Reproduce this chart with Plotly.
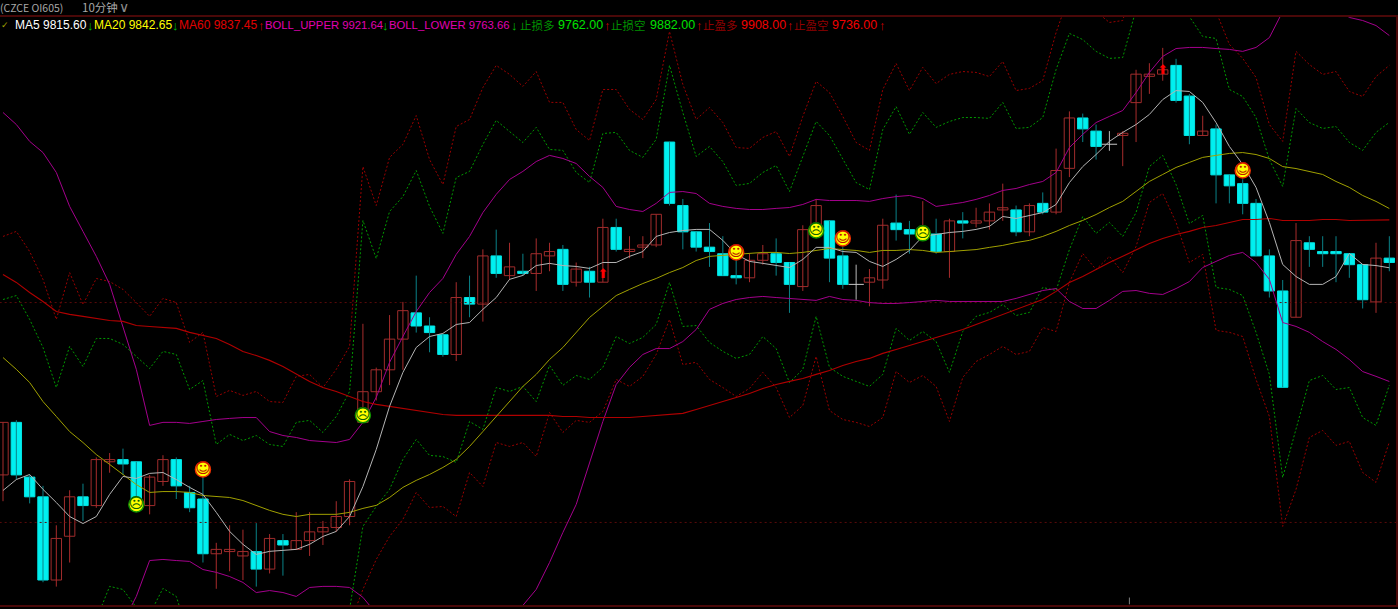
import plotly.graph_objects as go

# OHLC (prices), one entry per 10-minute bar
open_ = [9721,9745,9720,9711,9673,9693,9711,9707,9727,9728,9727,9707,9718,9728,9713,9710,9685,9686,9684,9686,9678,9691,9687,9691,9695,9697,9702,
         9745,9759,9769,9783,9795,9789,9785,9776,9802,9799,9821,9812,9814,9813,9821,9824,9809,9814,9809,9834,9823,9825,9826,9873,9844,9832,
         9825,9822,9812,9811,9819,9822,9818,9807,9833,9837,9821,9808,9809,9810,9836,9833,9830,9831,9823,9837,9836,9837,9842,9842,9832,9845,
         9841,9861,9884,9878,9872,9876,9891,9903,9904,9908,9894,9876,9879,9858,9854,9845,9821,9805,9793,9827,9823,9823,9822,9817,9800,9820]
high = [9745,9746,9721,9716,9698,9714,9717,9729,9731,9733,9727,9721,9730,9729,9716,9720,9690,9698,9696,9699,9694,9694,9704,9704,9700,9709,9719,
        9790,9770,9794,9800,9812,9793,9785,9809,9812,9824,9833,9827,9822,9829,9827,9826,9818,9816,9838,9838,9830,9830,9840,9873,9847,9832,
        9836,9830,9819,9822,9826,9829,9818,9835,9847,9837,9825,9817,9815,9838,9849,9837,9846,9838,9838,9841,9843,9845,9854,9844,9845,9850,
        9870,9887,9886,9881,9878,9878,9906,9909,9916,9911,9895,9885,9881,9858,9856,9847,9824,9810,9836,9830,9830,9830,9822,9817,9827,9830]
low = [9709,9719,9708,9672,9670,9681,9700,9706,9722,9721,9708,9703,9716,9710,9704,9681,9669,9677,9673,9670,9676,9675,9687,9684,9689,9695,9698,
       9745,9755,9762,9769,9786,9777,9775,9773,9793,9791,9811,9810,9812,9805,9814,9805,9807,9802,9809,9823,9820,9820,9825,9844,9824,9823,
       9816,9812,9808,9809,9817,9812,9795,9805,9833,9809,9806,9801,9798,9806,9828,9822,9829,9822,9811,9829,9834,9833,9837,9830,9830,9840,
       9840,9857,9873,9865,9869,9862,9873,9895,9901,9891,9872,9876,9845,9845,9840,9821,9802,9761,9793,9816,9816,9809,9811,9797,9795,9814]
close = [9745,9721,9711,9673,9692,9711,9707,9728,9728,9726,9710,9720,9728,9716,9706,9685,9687,9687,9686,9678,9692,9689,9691,9695,9697,9702,9718,
         9759,9769,9783,9796,9789,9786,9776,9802,9799,9821,9813,9816,9813,9822,9823,9808,9815,9809,9834,9824,9824,9826,9840,9845,9832,9825,
         9823,9812,9811,9819,9822,9818,9808,9833,9844,9820,9808,9808,9811,9835,9833,9831,9834,9823,9837,9836,9837,9841,9843,9832,9844,9841,
         9860,9884,9879,9871,9872,9877,9904,9904,9906,9892,9876,9878,9858,9853,9845,9821,9805,9761,9828,9824,9822,9822,9817,9801,9820,9818]

ma5 = [9713.9,9718.9,9721.2,9714.4,9708.4,9702.0,9698.8,9702.0,9712.1,9720.3,9719.4,9721.7,9722.1,9718.9,9715.3,9712.1,9703.9,9695.2,9689.3,9684.7,9686.1,9686.5,9687.0,9689.3,9692.9,9695.2,9702.0,
       9715.7,9732.6,9752.3,9767.8,9779.2,9784.2,9785.6,9789.7,9790.6,9796.6,9802.0,9810.3,9812.1,9816.6,9817.6,9816.6,9816.2,9815.3,9818.0,9818.0,9820.8,9823.0,9829.9,9831.7,9832.6,9833.1,
       9833.1,9828.1,9821.7,9818.5,9817.6,9816.6,9815.7,9819.4,9824.9,9824.9,9823.0,9822.6,9818.5,9816.2,9819.4,9823.5,9829.9,9830.8,9831.7,9832.2,9833.1,9834.5,9839.0,9838.1,9839.5,9840.8,
       9844.5,9854.5,9861.8,9867.3,9873.3,9877.4,9881.0,9885.6,9892.4,9896.5,9896.1,9891.1,9881.9,9871.0,9862.8,9852.3,9836.3,9817.1,9811.6,9808.0,9808.0,9811.6,9822.1,9817.1,9816.6,9815.6]
ma20 = [9774.6,9769.2,9763.2,9754.5,9747.7,9740.8,9735.8,9730.3,9725.8,9721.2,9716.6,9713.0,9713.4,9713.4,9713.0,9711.6,9711.2,9710.7,9709.3,9707.1,9704.8,9703.0,9702.0,9703.0,9703.0,9703.0,9703.9,
        9705.7,9707.1,9710.7,9715.3,9718.5,9721.2,9724.4,9728.1,9734.0,9740.8,9747.7,9754.5,9761.4,9766.9,9773.7,9779.2,9786.1,9792.9,9797.9,9802.9,9805.7,9808.4,9810.7,9813.4,9815.7,9818.9,
        9820.8,9821.2,9821.7,9822.1,9822.6,9822.6,9822.1,9822.6,9823.5,9824.4,9823.9,9823.5,9822.6,9823.5,9823.5,9823.9,9823.5,9822.6,9823.0,9823.5,9823.9,9824.9,9825.8,9827.1,9828.1,9829.9,
        9832.2,9834.9,9837.2,9839.9,9843.1,9845.9,9850.4,9855.0,9858.2,9861.4,9863.7,9866.0,9866.9,9867.8,9868.2,9867.3,9865.5,9861.8,9860.9,9859.6,9858.2,9855.0,9852.3,9848.6,9845.9,9842.65]
ma60 = [9812.5,9808.9,9804.3,9800.2,9795.6,9794.3,9793.4,9792.4,9791.5,9791.1,9789.2,9788.8,9788.3,9787.9,9786.1,9784.7,9783.3,9780.6,9777.4,9775.5,9773.3,9770.5,9766.9,9763.7,9760.9,9759.1,9756.8,
        9754.5,9753.2,9752.3,9751.3,9750.4,9749.5,9748.6,9748.2,9748.2,9748.2,9748.2,9748.2,9748.2,9748.2,9748.2,9747.7,9747.7,9747.2,9747.2,9747.2,9747.2,9747.7,9748.2,9748.6,9749.1,9750.9,
        9752.7,9754.5,9756.4,9758.2,9760.5,9762.3,9763.7,9765.0,9766.9,9768.7,9771.0,9772.8,9774.2,9776.5,9778.3,9780.1,9781.9,9783.8,9785.6,9787.4,9789.7,9792.0,9794.3,9796.6,9798.8,9801.1,
        9804.8,9808.9,9811.6,9814.8,9818.0,9820.8,9823.9,9826.7,9829.0,9830.8,9832.2,9834.0,9834.9,9836.3,9837.6,9837.6,9838.1,9837.2,9837.2,9837.2,9837.6,9837.6,9837.2,9837.2,9837.2,9837.45]
boll_upper = [9886.5,9881.0,9873.3,9868.2,9859.1,9843.6,9832.2,9820.8,9808.0,9788.8,9769.2,9743.6,9745.0,9745.0,9744.5,9745.4,9746.3,9746.8,9747.2,9747.2,9740.8,9739.0,9738.1,9736.7,9736.3,9735.8,9737.2,
              9745.0,9756.4,9772.4,9784.2,9795.6,9804.3,9810.7,9821.7,9829.9,9840.8,9849.1,9855.9,9859.6,9864.1,9866.9,9865.5,9863.2,9857.3,9852.3,9843.6,9842.2,9841.3,9845.0,9850.0,9850.4,9849.5,
              9845.0,9843.6,9842.7,9842.2,9842.2,9842.7,9843.1,9844.5,9846.8,9846.3,9846.3,9846.3,9845.9,9847.2,9848.1,9848.6,9847.2,9843.6,9844.5,9845.4,9846.8,9848.6,9850.9,9851.8,9853.6,9855.0,
              9859.1,9870.5,9876.5,9881.9,9884.7,9887.4,9895.6,9904.8,9912.1,9915.7,9916.2,9916.2,9915.7,9915.3,9914.4,9916.2,9920.7,9932.6,9935.8,9937.2,9936.7,9934.4,9929.9,9928.5,9926.2,9921.64]
boll_lower = [9661.4,9657.3,9653.2,9640.9,9636.3,9638.1,9639.5,9639.9,9643.6,9653.6,9665.5,9681.9,9682.4,9681.9,9681.5,9677.8,9676.5,9674.6,9671.9,9667.3,9668.2,9667.3,9665.5,9669.6,9670.1,9670.1,9669.6,
              9665.1,9657.7,9649.1,9646.3,9641.3,9638.1,9638.1,9634.5,9638.1,9640.9,9646.3,9653.2,9661.4,9668.7,9681.0,9694.7,9707.5,9726.7,9745.4,9762.3,9770.1,9776.0,9778.7,9778.7,9781.9,9787.4,
              9796.6,9799.3,9801.1,9802.0,9802.5,9802.0,9801.6,9801.1,9800.7,9802.5,9801.1,9800.7,9799.7,9799.3,9799.3,9799.7,9800.2,9800.7,9800.2,9800.2,9800.2,9800.2,9800.2,9801.6,9803.4,9805.2,
              9806.1,9800.2,9797.0,9797.0,9800.7,9804.8,9805.2,9803.9,9803.4,9806.1,9809.3,9815.7,9818.5,9821.2,9822.6,9818.0,9810.3,9790.6,9788.8,9786.1,9781.9,9778.3,9773.7,9768.2,9766.0,9763.66]
stop_loss_long = [9659.6,9659.6,9655.0,9645.9,9632.2,9645.9,9641.3,9655.0,9670.1,9668.7,9660.5,9657.3,9669.2,9665.5,9645.9,9650.4,9623.0,9627.6,9623.0,9625.3,9620.8,9620.8,9632.2,9634.5,9629.9,9641.3,9659.6,
                  9697.5,9706.6,9714.4,9728.1,9737.2,9729.9,9729.4,9726.7,9745.4,9741.8,9760.9,9759.1,9761.4,9754.5,9771.0,9761.9,9766.4,9764.6,9770.1,9784.2,9781.0,9783.8,9789.7,9808.9,9788.8,9789.2,
                  9781.5,9777.4,9774.2,9776.0,9784.2,9778.7,9763.2,9769.2,9793.4,9770.1,9766.0,9763.7,9761.4,9766.9,9787.9,9782.4,9786.5,9781.9,9767.8,9786.5,9793.4,9795.2,9798.8,9793.8,9795.2,9806.6,
                  9805.2,9823.9,9839.0,9831.3,9836.3,9829.9,9840.8,9861.8,9866.9,9853.6,9835.8,9839.5,9806.6,9805.7,9802.9,9786.1,9766.9,9719.8,9741.8,9764.1,9766.4,9760.0,9760.9,9747.2,9743.6,9762.0]
stop_loss_short = [9801.1,9802.9,9792.0,9779.2,9760.9,9779.7,9770.5,9783.3,9783.3,9780.6,9775.1,9769.6,9777.4,9776.0,9760.0,9764.1,9734.9,9739.5,9736.7,9739.0,9734.9,9734.0,9745.0,9745.9,9740.4,9747.7,9759.1,
                   9837.2,9819.8,9841.3,9848.1,9860.0,9843.6,9831.3,9856.8,9859.6,9871.9,9882.9,9877.8,9872.8,9879.7,9869.6,9869.2,9859.1,9854.5,9876.9,9877.4,9869.2,9866.0,9874.2,9908.0,9886.5,9866.4,
                   9871.0,9864.1,9853.2,9854.1,9859.1,9862.3,9850.4,9866.4,9882.4,9876.0,9865.0,9854.5,9851.3,9878.7,9889.2,9876.5,9886.5,9879.7,9882.4,9884.2,9884.2,9883.8,9891.1,9879.2,9879.7,9884.2,
                   9906.1,9922.6,9919.8,9914.4,9911.2,9911.6,9933.5,9954.1,9958.6,9944.9,9930.3,9921.2,9920.3,9897.0,9893.8,9884.2,9865.0,9852.7,9888.3,9881.9,9879.2,9880.1,9872.8,9869.2,9877.4,9882.0]
take_profit_long = [9829.9,9832.2,9823.0,9810.3,9792.0,9813.4,9798.8,9810.7,9809.3,9805.7,9799.7,9793.4,9801.6,9799.7,9781.5,9786.1,9756.8,9759.6,9757.3,9759.1,9754.5,9754.1,9766.0,9766.9,9760.9,9769.2,9779.7,
                    9861.8,9844.0,9866.0,9871.9,9885.1,9865.0,9853.6,9880.1,9883.3,9897.9,9908.0,9903.9,9898.4,9905.2,9891.1,9891.1,9878.7,9873.7,9897.0,9897.0,9887.9,9883.3,9892.4,9923.5,9899.3,9883.3,
                    9888.8,9881.9,9870.5,9870.1,9875.1,9877.8,9866.4,9884.7,9900.7,9895.6,9884.7,9872.8,9869.2,9897.0,9908.9,9896.5,9907.1,9899.7,9903.9,9905.2,9904.8,9902.9,9909.8,9896.5,9897.5,9901.1,
                    9923.0,9940.4,9938.1,9932.6,9927.6,9928.5,9950.9,9970.1,9974.6,9960.9,9947.2,9938.1,9932.6,9917.6,9911.2,9902.5,9881.0,9873.3,9914.4,9908.4,9903.9,9905.2,9896.1,9893.8,9902.9,9908.0]
take_profit_short = [9636.7,9636.7,9632.2,9623.0,9609.3,9623.0,9618.5,9632.2,9645.9,9643.6,9636.7,9634.5,9645.9,9641.3,9623.0,9627.6,9600.2,9604.8,9600.2,9602.5,9597.9,9597.9,9609.3,9611.6,9607.1,9618.5,9652.7,
                     9668.7,9682.4,9692.9,9700.7,9713.0,9706.1,9706.6,9702.0,9722.1,9715.7,9735.8,9734.0,9735.8,9729.4,9749.5,9740.4,9745.9,9745.0,9750.0,9764.6,9761.4,9766.0,9776.0,9792.0,9771.4,9772.4,
                     9764.6,9760.9,9756.8,9760.5,9767.8,9760.9,9747.2,9752.7,9775.1,9750.4,9746.3,9745.0,9743.1,9747.2,9768.2,9763.2,9766.4,9761.4,9745.4,9765.5,9772.8,9776.0,9779.7,9776.0,9777.4,9788.3,
                     9786.5,9808.9,9822.1,9814.8,9820.8,9813.4,9825.3,9845.4,9849.5,9836.3,9818.0,9821.7,9787.0,9786.1,9784.2,9764.6,9747.7,9697.5,9714.4,9738.1,9741.3,9734.5,9736.3,9722.1,9717.6,9736.0]

level_prices = [9799.7, 9699.3]
happy_bars, happy_prices = [15, 55, 63, 93], [9723.5, 9822.6, 9829.0, 9860.0]
sad_bars, sad_prices = [10, 27, 61, 69], [9707.5, 9748.2, 9832.6, 9831.3]
arrow_bars, arrow_prices = [45, 87], [9812.5, 9905.7]
tick_bar, tick_prices = [84.5, 84.5], [9665.0, 9661.9]

# header: text, left pixel, colour, font
F_L, F_C = "Liberation Sans, Arial, sans-serif", "Noto Sans CJK SC"
GREEN_ARROW, RED_ARROW = "#00c000", "#d00000"
header_top = [("(CZCE OI605)", 0, "#a8a8a8", F_C, 10.5), ("10分钟", 82, "#a8a8a8", F_C, 11.5)]
header_row = [("✓", 1, "#a0a000", "DejaVu Sans", 9),
    ("MA5 9815.60", 15, "#ffffff", F_L, 12), ("↓", 87, GREEN_ARROW, F_L, 13),
    ("MA20 9842.65", 94, "#ffff00", F_L, 12), ("↓", 172, GREEN_ARROW, F_L, 13),
    ("MA60 9837.45", 179, "#e00000", F_L, 12), ("↑", 258, RED_ARROW, F_L, 13),
    ("BOLL_UPPER 9921.64", 265, "#e000b0", F_L, 11.3), ("↓", 383, GREEN_ARROW, F_L, 13),
    ("BOLL_LOWER 9763.66", 390, "#e000b0", F_L, 11.3), ("↓", 512, GREEN_ARROW, F_L, 13),
    ("止损多", 521, "#009000", F_C, 11.5), ("9762.00", 559, "#00e000", F_L, 12.5), ("↑", 605, RED_ARROW, F_L, 13),
    ("止损空", 612, "#009000", F_C, 11.5), ("9882.00", 651, "#00e000", F_L, 12.5), ("↑", 697, RED_ARROW, F_L, 13),
    ("止盈多", 704, "#900000", F_C, 11.5), ("9908.00", 742, "#f00000", F_L, 12.5), ("↑", 788, RED_ARROW, F_L, 13),
    ("止盈空", 795, "#900000", F_C, 11.5), ("9736.00", 833, "#f00000", F_L, 12.5), ("↑", 880, RED_ARROW, F_L, 13)]

n = len(close)
bars = list(range(n))
P_TOP, P_BOTTOM = 9930.1, 9661.6
W, H, M_T, M_B = 1398, 609, 17, 4


def wicks(idx):
    xs, ys = [], []
    for i in idx:
        xs += [i, i, None]
        ys += [low[i], high[i], None]
    return xs, ys


up = [i for i in bars if close[i] > open_[i]]
down = [i for i in bars if close[i] < open_[i]]
doji = [i for i in bars if close[i] == open_[i]]

fig = go.Figure()
for name, series, color in [("止盈多", take_profit_long, "#9a0000"), ("止盈空", take_profit_short, "#9a0000"),
                            ("止损多", stop_loss_long, "#009a00"), ("止损空", stop_loss_short, "#009a00")]:
    fig.add_trace(go.Scatter(x=bars, y=series, mode="lines", name=name,
                             line=dict(color=color, width=1, dash="2px,2px")))
for p in level_prices:
    fig.add_trace(go.Scatter(x=[bars[0] - 1, bars[-1] + 1], y=[p, p], mode="lines",
                             line=dict(color="#5a0a0a", width=1, dash="2px,3px")))

for idx, color in [(up, "#a82c2c"), (down, "#0a8288"), (doji, "#b8b8b8")]:
    xs, ys = wicks(idx)
    fig.add_trace(go.Scatter(x=xs, y=ys, mode="lines", line=dict(color=color, width=1)))
fig.add_trace(go.Bar(x=up, y=[close[i] - open_[i] for i in up], base=[open_[i] for i in up], width=0.78,
                     marker=dict(color="#000000", line=dict(color="#a02c2c", width=1))))
fig.add_trace(go.Bar(x=down, y=[open_[i] - close[i] for i in down], base=[close[i] for i in down], width=0.78,
                     marker=dict(color="#00f0f0", line=dict(color="#00e4e4", width=1))))
fig.add_trace(go.Scatter(x=doji, y=[close[i] for i in doji], mode="markers",
                         marker=dict(symbol="line-ew", size=11, line=dict(color="#c8c8c8", width=1))))
fig.add_trace(go.Scatter(x=tick_bar, y=tick_prices, mode="lines", line=dict(color="#808080", width=1)))

for series, color, width in [(boll_upper, "#a4008c", 1), (boll_lower, "#a4008c", 1), (ma60, "#b00000", 1.1),
                             (ma20, "#a0a000", 1), (ma5, "#b4b4b4", 1)]:
    fig.add_trace(go.Scatter(x=bars, y=series, mode="lines", line=dict(color=color, width=width)))

fig.add_trace(go.Scatter(x=arrow_bars, y=arrow_prices, mode="text", text=["⬆"] * len(arrow_bars),
                         textposition="middle center",
                         textfont=dict(family="DejaVu Sans", size=13, color="#ff0000")))
for xs, ys, border, glyph, ink in [(happy_bars, happy_prices, "#f03000", "☺", "#c01000"),
                                   (sad_bars, sad_prices, "#109000", "☹", "#106000")]:
    fig.add_trace(go.Scatter(x=xs, y=ys, mode="markers+text", text=[glyph] * len(xs), textposition="middle center",
                             textfont=dict(family="DejaVu Sans", size=15, color=ink),
                             marker=dict(symbol="circle", size=15, color="#ffff00", line=dict(color=border, width=1.5))))

plot_h = H - M_T - M_B


def label(text, px, py, color, family, size):
    return dict(text=text, xref="paper", yref="paper", x=px / W, y=(H - M_B - py) / plot_h,
                xanchor="left", yanchor="middle", showarrow=False, xshift=-2,
                font=dict(color=color, family=family, size=size))


annotations = [label(t, px, 7, c, f, s) for t, px, c, f, s in header_top]
annotations.append(label("∨", 119, 7, "#8c8c8c", "DejaVu Sans", 14))
annotations += [label(t, px, 25, c, f, s) for t, px, c, f, s in header_row]

axis_line = dict(showline=True, linecolor="#4a0808", linewidth=2, mirror=True, showgrid=False,
                 zeroline=False, showticklabels=False, ticks="")
fig.update_layout(width=W, height=H, margin=dict(l=0, r=0, t=M_T, b=M_B), showlegend=False,
                  paper_bgcolor="#000000", plot_bgcolor="#000000", barmode="overlay",
                  annotations=annotations, hovermode=False,
                  xaxis=dict(range=[-0.225, 104.5], **axis_line),
                  yaxis=dict(range=[P_BOTTOM, P_TOP], **axis_line))
fig.write_html("out.html", config={"displayModeBar": False},
               post_script="document.body.style.margin='0';document.body.style.background='#000';")
